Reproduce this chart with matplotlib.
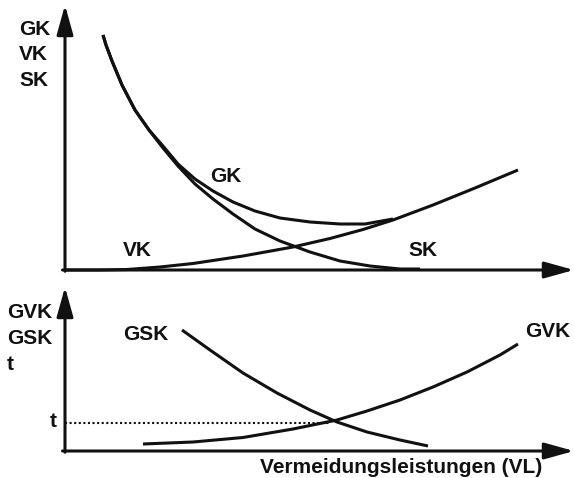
import matplotlib
matplotlib.use("Agg")
import matplotlib.pyplot as plt

plt.rcParams['font.family'] = ['Liberation Sans', 'DejaVu Sans']

# ---- data (x = Vermeidungsleistungen, y = Kosten) ----
# Schadenskosten (SK)
sk_x = [0.76, 0.82, 0.94, 1.14, 1.40, 1.68, 1.96, 2.26, 2.60, 2.96, 3.36,
        3.80, 4.30, 4.90, 5.50, 6.10, 6.70, 7.10]
sk_y = [9.40, 9.00, 8.36, 7.40, 6.40, 5.60, 4.88, 4.16, 3.44, 2.84, 2.24,
        1.64, 1.16, 0.72, 0.36, 0.16, 0.04, 0.04]
# Vermeidungskosten (VK)
vk_x = [0.00, 0.70, 1.24, 1.90, 2.56, 3.56, 4.56, 5.30, 5.96, 6.56, 7.36,
        8.20, 9.06]
vk_y = [0.00, 0.00, 0.02, 0.12, 0.26, 0.56, 0.92, 1.26, 1.62, 2.00, 2.60,
        3.28, 4.00]
# Gesamtkosten (GK)
gk_x = [0.76, 0.82, 0.94, 1.14, 1.40, 1.68, 1.96, 2.26, 2.60, 2.96, 3.36,
        3.80, 4.30, 4.90, 5.50, 6.00, 6.56]
gk_y = [9.40, 9.00, 8.36, 7.40, 6.40, 5.60, 4.96, 4.24, 3.64, 3.16, 2.72,
        2.36, 2.08, 1.92, 1.84, 1.84, 2.04]

# Grenzschadenskosten (GSK), Grenzvermeidungskosten (GVK)
gsk_x = [2.34, 2.90, 3.56, 4.24, 4.90, 5.44, 6.04, 6.70, 7.26]
gsk_y = [4.84, 4.04, 3.12, 2.32, 1.64, 1.16, 0.76, 0.44, 0.20]

gvk_x = [1.56, 2.56, 3.56, 4.56, 5.44, 6.04, 6.70, 7.36, 8.04, 8.70, 9.06]
gvk_y = [0.28, 0.36, 0.54, 0.88, 1.24, 1.60, 2.04, 2.56, 3.16, 3.84, 4.28]

t_value = 1.12
t_x_end = 5.30

top_ylabels = ["GK", "VK", "SK"]
bot_ylabels = ["GVK", "GSK", "t"]
xlabel = "Vermeidungsleistungen (VL)"

# ---- figure ----
W, H = 574, 478
fig = plt.figure(figsize=(W / 100, H / 100), dpi=100)
fig.patch.set_facecolor('white')

sx, sy = 50.0, 25.0          # px per unit
ox = 65.0                    # x pixel of origin
top_oy, bot_oy = 270.0, 451.0

def make_ax(oy):
    ax = fig.add_axes([0, 0, 1, 1])
    ax.set_xlim(-ox / sx, (W - ox) / sx)
    ax.set_ylim((oy - H) / sy, oy / sy)
    ax.axis('off')
    ax.patch.set_alpha(0)
    return ax

ax1 = make_ax(top_oy)
ax2 = make_ax(bot_oy)

col = '#111111'
lw = 2.2
fs = 15
fw = 'bold'

def arrow(ax, x0, y0, x1, y1):
    ax.annotate('', xy=(x1, y1), xytext=(x0, y0),
                arrowprops=dict(arrowstyle='-|>,head_length=1.8,head_width=0.5',
                                mutation_scale=10, lw=lw, color=col,
                                shrinkA=0, shrinkB=0))

xmax = (W - ox) / sx
arrow(ax1, 0, -0.05, 0, (top_oy - 5) / sy)
arrow(ax1, -0.05, 0, xmax, 0)
arrow(ax2, 0, -0.05, 0, (bot_oy - 287) / sy)
arrow(ax2, -0.05, 0, xmax, 0)

for xs, ys in [(sk_x, sk_y), (vk_x, vk_y), (gk_x, gk_y)]:
    ax1.plot(xs, ys, color=col, lw=lw, solid_capstyle='butt',
             solid_joinstyle='round', clip_on=False)
for xs, ys in [(gsk_x, gsk_y), (gvk_x, gvk_y)]:
    ax2.plot(xs, ys, color=col, lw=lw, solid_capstyle='butt',
             solid_joinstyle='round', clip_on=False)
ax2.plot([0, t_x_end], [t_value, t_value], color=col, lw=1.5,
         linestyle=(0, (1, 1.2)))

for i, lab in enumerate(top_ylabels):
    ax1.text(-0.92, 9.40 - i * 1.02, lab, fontsize=fs, fontweight=fw,
             color=col, ha='left', va='baseline')
ax1.text(2.90, 3.52, "GK", fontsize=fs, fontweight=fw, color=col,
         ha='left', va='baseline')
ax1.text(1.16, 0.56, "VK", fontsize=fs, fontweight=fw, color=col,
         ha='left', va='baseline')
ax1.text(6.86, 0.56, "SK", fontsize=fs, fontweight=fw, color=col,
         ha='left', va='baseline')

for i, lab in enumerate(bot_ylabels):
    ax2.text(-1.16, 5.32 - i * 1.04, lab, fontsize=fs, fontweight=fw,
             color=col, ha='left', va='baseline')
ax2.text(-0.23, t_value - 0.16, "t", fontsize=fs, fontweight=fw, color=col,
         ha='center', va='baseline')
ax2.text(1.16, 4.44, "GSK", fontsize=fs, fontweight=fw, color=col,
         ha='left', va='baseline')
ax2.text(9.20, 4.56, "GVK", fontsize=fs, fontweight=fw, color=col,
         ha='left', va='baseline')
ax2.text(3.90, -0.88, xlabel, fontsize=fs, fontweight=fw, color=col,
         ha='left', va='baseline')

fig.savefig('out.png', dpi=100, facecolor='white')
